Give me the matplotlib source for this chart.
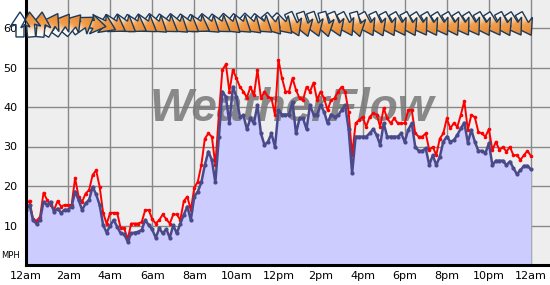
import numpy as np
import matplotlib
matplotlib.use("Agg")
import matplotlib.pyplot as plt
from matplotlib.patches import Polygon
from matplotlib.colors import LinearSegmentedColormap

# 10-minute samples, 12am -> 12am
gust = [15.2, 16.3, 11.6, 11.2, 12.2, 18.3, 16.5, 15.2, 13.9, 16.2, 14.8, 15.2,
        15.2, 15.2, 22.0, 17.3, 16.0, 18.1, 19.0, 22.8, 24.0, 19.8, 13.2, 10.4,
        13.2, 13.2, 13.2, 9.3, 9.3, 6.5, 10.5, 10.5, 10.5, 10.9, 13.9, 13.9,
        11.6, 10.5, 11.4, 12.8, 11.6, 10.5, 12.8, 12.8, 11.4, 16.2, 17.3, 13.9,
        19.6, 21.1, 25.3, 32.0, 33.3, 32.5, 25.3, 38.0, 49.4, 50.8, 43.9, 49.4,
        47.3, 45.1, 43.9, 42.4, 45.1, 43.0, 49.4, 42.2, 43.9, 42.6, 42.2, 38.0,
        51.9, 47.3, 43.9, 43.9, 47.3, 44.3, 42.2, 41.8, 45.1, 43.9, 46.2, 41.8,
        43.9, 42.2, 39.2, 41.8, 42.2, 43.9, 45.1, 43.9, 38.8, 27.8, 35.9, 36.7,
        37.5, 35.0, 37.5, 38.4, 38.1, 35.0, 39.7, 37.1, 35.9, 37.1, 35.9, 35.9,
        35.9, 39.2, 39.2, 33.3, 32.5, 32.5, 33.3, 29.1, 29.9, 27.8, 32.0, 33.3,
        37.1, 34.6, 35.9, 35.0, 38.0, 41.5, 34.2, 38.0, 37.4, 33.7, 33.3, 32.5,
        34.4, 29.1, 31.2, 29.1, 29.9, 28.7, 29.9, 27.8, 27.8, 26.6, 27.8, 28.9,
        27.6]

avg = [13.9, 15.2, 11.4, 10.4, 11.4, 16.0, 15.2, 16.0, 13.5, 14.3, 13.2, 14.0,
       14.0, 14.8, 18.6, 16.5, 13.9, 15.6, 16.5, 19.8, 17.9, 15.2, 10.1, 8.2,
       10.0, 11.4, 9.7, 8.0, 7.8, 5.9, 8.0, 8.2, 8.4, 8.9, 11.4, 10.1,
       9.0, 6.9, 9.3, 8.0, 9.1, 6.9, 10.1, 8.0, 10.5, 12.7, 14.8, 11.4,
       17.3, 18.6, 20.9, 25.3, 28.7, 26.6, 20.9, 32.5, 43.9, 42.6, 35.9, 45.1,
       42.6, 37.5, 37.9, 34.4, 37.1, 35.9, 40.5, 33.3, 30.4, 31.2, 33.3, 29.9,
       39.2, 38.1, 38.1, 38.1, 41.3, 33.3, 37.1, 37.1, 34.4, 40.5, 38.1, 38.1,
       40.5, 38.8, 35.9, 38.1, 37.5, 37.9, 39.2, 40.5, 34.4, 23.2, 32.5, 32.5,
       32.5, 32.5, 33.3, 34.4, 32.9, 30.4, 35.9, 32.5, 32.5, 32.5, 32.5, 33.3,
       31.2, 34.2, 35.9, 29.9, 28.9, 28.9, 29.5, 25.3, 27.8, 25.3, 27.4, 31.2,
       32.5, 31.2, 31.6, 32.9, 34.6, 36.0, 31.0, 34.2, 31.2, 28.9, 28.9, 28.3,
       30.8, 25.3, 26.4, 26.4, 26.4, 25.3, 26.2, 24.5, 23.0, 24.0, 25.1, 25.1,
       24.2]

# wind direction every 30 min (compass bearing the arrow points to)
wind_dir = [0, 355, 5, 30, 35, 40, 55, 100, 115, 122, 125, 122,
            125, 128, 125, 128, 125, 122, 128, 125, 130, 128, 132, 128,
            140, 135, 155, 162, 160, 165, 158, 152, 165, 152, 155, 152,
            150, 152, 148, 150, 148, 150, 148, 148, 150, 148, 152, 148,
            150]

hours = np.arange(len(gust)) / 6.0
dir_hours = np.arange(len(wind_dir)) / 2.0
tick_hours = list(range(0, 25, 2))
tick_labels = ["12am", "2am", "4am", "6am", "8am", "10am", "12pm",
               "2pm", "4pm", "6pm", "8pm", "10pm", "12am"]

PX_HR = 21.04   # pixels per hour
PX_MPH = 3.95   # pixels per mph
XMAX = 524 / PX_HR
YMAX = 265 / PX_MPH

fig = plt.figure(figsize=(5.5, 2.85), dpi=100)
ax = fig.add_axes([26 / 550, 20 / 285, 524 / 550, 265 / 285])
ax.set_facecolor("#eeeeee")
ax.set_xlim(0, XMAX)
ax.set_ylim(0, YMAX)
ax.set_autoscale_on(False)

ax.set_xticks(tick_hours)
ax.set_xticklabels(tick_labels)
ax.set_yticks([10, 20, 30, 40, 50, 60])
ax.tick_params(length=0, labelsize=8, pad=4)
ax.tick_params(axis="y", pad=6)
ax.grid(True, color="#888888", linewidth=1.0, zorder=0)
ax.set_axisbelow(True)

for s in ["top", "right"]:
    ax.spines[s].set_visible(False)
for s in ["left", "bottom"]:
    ax.spines[s].set_linewidth(2.2)
    ax.spines[s].set_color("black")
    ax.spines[s].set_zorder(6)

ax.fill_between(hours, 0, avg, color="#ccccff", zorder=2, linewidth=0)

ax.text(12.65, 39.5, "WeatherFlow", fontsize=33, fontweight="bold", style="italic",
        family="Liberation Sans", color="#777777", alpha=0.85,
        ha="center", va="center", zorder=3)

ax.plot(hours, gust, color="#ff0000", linewidth=1.4, marker="o", markersize=2.6,
        markeredgewidth=0, zorder=4)
ax.plot(hours, avg, color="#4a4a8a", linewidth=1.8, marker="o", markersize=3.0,
        markeredgewidth=0, zorder=5)

# wind direction arrows: shape in pixel units, gradient white tail -> orange head
L = 12.5
shape = np.array([(0, L), (10, -2.5), (4, 0.0), (4, -L),
                  (-4, -L), (-4, 0.0), (-10, -2.5)])
cmap = LinearSegmentedColormap.from_list(
    "arr", [(0, "#ffffff"), (0.25, "#fbe6d2"), (0.5, "#f0a050"), (1, "#e8852c")])
yc = 60.9
xoff = -6 / PX_HR
n = len(wind_dir)
for k, (h, d) in enumerate(zip(dir_hours, wind_dir)):
    t = -np.radians(d)
    rx = shape[:, 0] * np.cos(t) - shape[:, 1] * np.sin(t)
    ry = shape[:, 0] * np.sin(t) + shape[:, 1] * np.cos(t)
    cx = h + xoff
    vx = cx + rx / PX_HR
    vy = yc + ry / PX_MPH
    z = 7 + (n - k) * 0.01
    poly = Polygon(np.column_stack([vx, vy]), closed=True, facecolor="none",
                   edgecolor="#1b3a5a", linewidth=1.0, zorder=z + 0.005,
                   clip_on=False)
    ax.add_patch(poly)
    gx = np.linspace(vx.min(), vx.max(), 30)
    gy = np.linspace(vy.min(), vy.max(), 30)
    GX, GY = np.meshgrid(gx, gy)
    s = (GX - cx) * PX_HR * np.sin(np.radians(d)) + (GY - yc) * PX_MPH * np.cos(np.radians(d))
    val = np.clip((s + L) / (2 * L), 0, 1)
    ax.imshow(val, cmap=cmap, vmin=0, vmax=1,
              extent=[vx.min(), vx.max(), vy.min(), vy.max()],
              origin="lower", aspect="auto", zorder=z, clip_path=poly,
              interpolation="bilinear")

ax.set_xlim(0, XMAX)
ax.set_ylim(0, YMAX)

fig.text(1 / 550, 1 - 256 / 285, "MPH", fontsize=6, va="center", ha="left")

fig.savefig("out.png", dpi=100)
